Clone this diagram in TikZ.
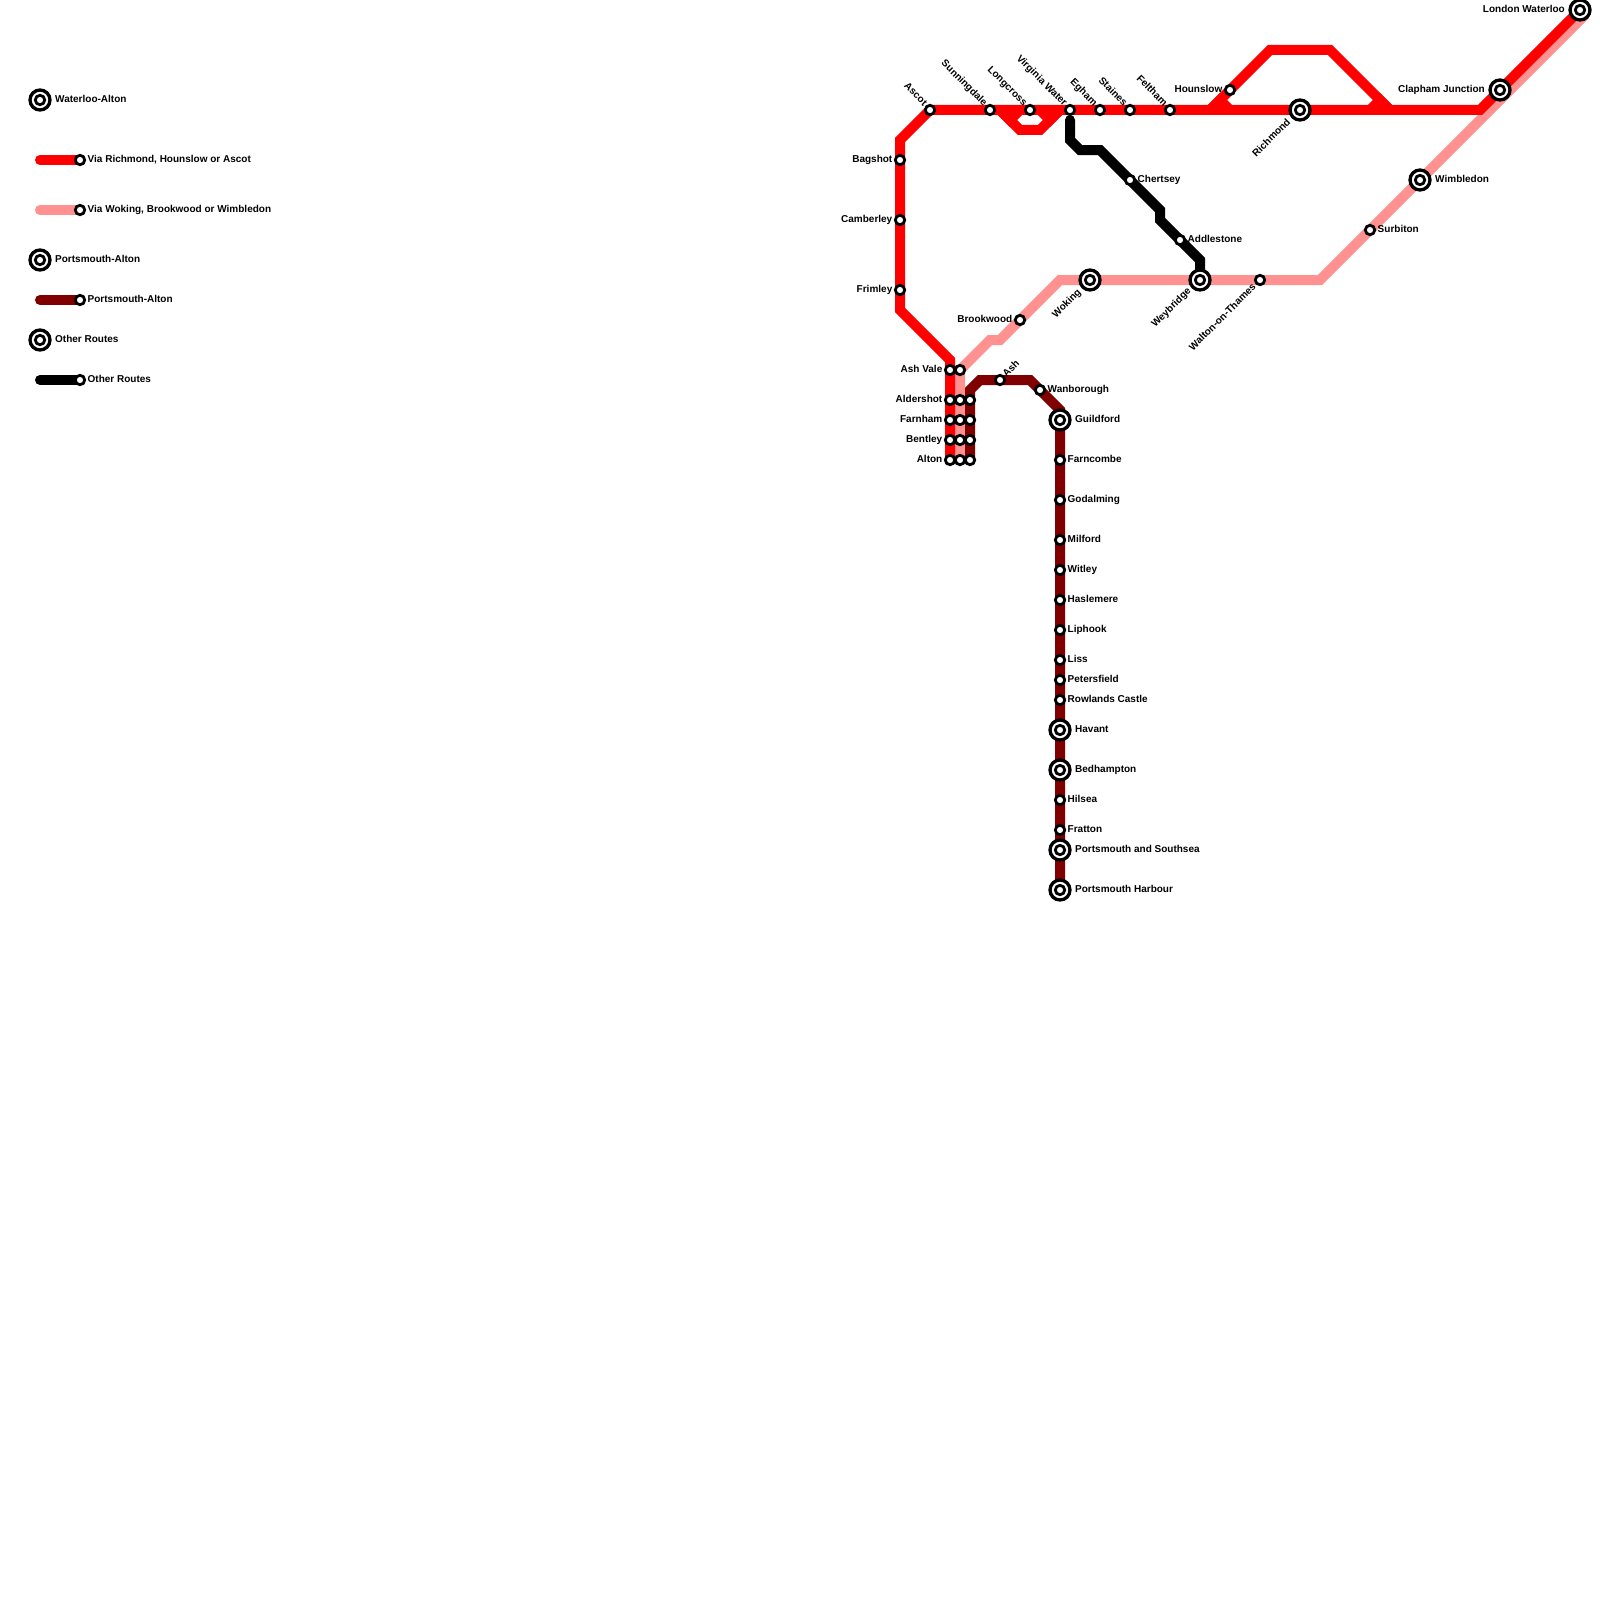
\documentclass[tikz,border=0pt]{standalone}
\usepackage{fontspec}
\setmainfont{Liberation Sans}
\usetikzlibrary{backgrounds}
\tikzset{
  x=1pt,y=-1pt,
  route/.style={line width=10pt,line cap=round,line join=miter},
  redline/.style={route,draw=rail},
  pinkline/.style={route,draw=railpink},
  darkline/.style={route,draw=raildark},
  blackline/.style={route,draw=black},
  stn/.style={circle,draw=black,fill=white,line width=2.8pt,minimum size=9.4pt,inner sep=0pt},
  ringstn/.style={circle,draw=black,fill=white,line width=3.3pt,minimum size=20pt,inner sep=0pt},
  lab/.style={font=\fontsize{10}{12}\selectfont\bfseries,text=black,inner sep=0pt,text height=7.2pt,text depth=0pt},
}
\definecolor{rail}{RGB}{255,0,0}
\definecolor{railpink}{RGB}{255,145,145}
\definecolor{raildark}{RGB}{128,0,0}
\newcommand{\st}[3]{\node[stn] (#1) at (#2,#3) {};}
\newcommand{\rg}[3]{\node[ringstn] (#1) at (#2,#3) {}; \node[stn] (#1i) at (#1.center) {};}
% labels: station, dx, dy, rotation, anchor, text
\newcommand{\lb}[6]{\node[lab,rotate=#4,anchor=#5] (#1lab) at ([xshift=#2pt,yshift=#3pt]#1.center) {#6};}
\newcommand{\rs}[2]{\lb{#1}{7.5}{1.2}{0}{west}{#2}}
\newcommand{\ls}[2]{\lb{#1}{-7.5}{1.2}{0}{east}{#2}}
\newcommand{\rr}[2]{\lb{#1}{15}{1.2}{0}{west}{#2}}
\newcommand{\lr}[2]{\lb{#1}{-15}{1.2}{0}{east}{#2}}
\newcommand{\ul}[2]{\lb{#1}{-4}{6}{-45}{east}{#2}}
\begin{document}
\begin{tikzpicture}
\useasboundingbox (0,0) rectangle (1600,1600);
% legend
\rg{kA}{40}{100} \rg{kB}{40}{260} \rg{kC}{40}{340}
\st{kD}{80}{160} \st{kE}{80}{210} \st{kF}{80}{300} \st{kG}{80}{380}
\coordinate (kDs) at (40,160); \coordinate (kEs) at (40,210); \coordinate (kFs) at (40,300); \coordinate (kGs) at (40,380);
\lb{kA}{15}{1.2}{0}{west}{Waterloo-Alton}
\lb{kB}{15}{1.2}{0}{west}{Portsmouth-Alton}
\lb{kC}{15}{1.2}{0}{west}{Other Routes}
\rs{kD}{Via Richmond, Hounslow or Ascot}
\rs{kE}{Via Woking, Brookwood or Wimbledon}
\rs{kF}{Portsmouth-Alton}
\rs{kG}{Other Routes}
% stations
\rg{waterloo}{1580}{10} \rg{clapham}{1500}{90} \rg{wimbledon}{1420}{180} \rg{richmond}{1300}{110}
\rg{woking}{1090}{280} \rg{weybridge}{1200}{280}
\rg{guildford}{1060}{420} \rg{havant}{1060}{730} \rg{bedhampton}{1060}{770}
\rg{southsea}{1060}{850} \rg{harbour}{1060}{890}
\st{surbiton}{1370}{230} \st{walton}{1260}{280} \st{brookwood}{1020}{320}
\st{hounslow}{1230}{90} \st{feltham}{1170}{110} \st{staines}{1130}{110} \st{egham}{1100}{110}
\st{virginia}{1070}{110} \st{longcross}{1030}{110} \st{sunningdale}{990}{110} \st{ascot}{930}{110}
\st{bagshot}{900}{160} \st{camberley}{900}{220} \st{frimley}{900}{290}
\st{ashvaleA}{950}{370} \st{ashvaleB}{960}{370}
\st{aldershotA}{950}{400} \st{aldershotB}{960}{400} \st{aldershotC}{970}{400}
\st{farnhamA}{950}{420} \st{farnhamB}{960}{420} \st{farnhamC}{970}{420}
\st{bentleyA}{950}{440} \st{bentleyB}{960}{440} \st{bentleyC}{970}{440}
\st{altonA}{950}{460} \st{altonB}{960}{460} \st{altonC}{970}{460}
\st{ash}{1000}{380} \st{wanborough}{1040}{390}
\st{farncombe}{1060}{460} \st{godalming}{1060}{500} \st{milford}{1060}{540} \st{witley}{1060}{570}
\st{haslemere}{1060}{600} \st{liphook}{1060}{630} \st{liss}{1060}{660} \st{petersfield}{1060}{680}
\st{rowlands}{1060}{700} \st{hilsea}{1060}{800} \st{fratton}{1060}{830}
\st{chertsey}{1130}{180} \st{addlestone}{1180}{240}
% labels
\lr{waterloo}{London Waterloo} \lr{clapham}{Clapham Junction} \rr{wimbledon}{Wimbledon}
\lb{richmond}{-11.5}{-10}{45}{east}{Richmond}
\lb{woking}{-11}{-10}{45}{east}{Woking}
\lb{weybridge}{-11}{-9}{45}{east}{Weybridge}
\lb{walton}{-6}{-5}{45}{east}{Walton-on-Thames}
\rs{surbiton}{Surbiton} \ls{brookwood}{Brookwood} \ls{hounslow}{Hounslow}
\ul{feltham}{Feltham} \ul{staines}{Staines} \ul{egham}{Egham} \ul{virginia}{Virginia Water}
\ul{longcross}{Longcross} \ul{sunningdale}{Sunningdale} \ul{ascot}{Ascot}
\ls{bagshot}{Bagshot} \ls{camberley}{Camberley} \ls{frimley}{Frimley}
\ls{ashvaleA}{Ash Vale} \ls{aldershotA}{Aldershot} \ls{farnhamA}{Farnham} \ls{bentleyA}{Bentley} \ls{altonA}{Alton}
\lb{ash}{4}{5}{45}{west}{Ash}
\rs{wanborough}{Wanborough} \rr{guildford}{Guildford} \rs{farncombe}{Farncombe} \rs{godalming}{Godalming}
\rs{milford}{Milford} \rs{witley}{Witley} \rs{haslemere}{Haslemere} \rs{liphook}{Liphook} \rs{liss}{Liss}
\rs{petersfield}{Petersfield} \rs{rowlands}{Rowlands Castle} \rr{havant}{Havant} \rr{bedhampton}{Bedhampton}
\rs{hilsea}{Hilsea} \rs{fratton}{Fratton} \rr{southsea}{Portsmouth and Southsea} \rr{harbour}{Portsmouth Harbour}
\rs{chertsey}{Chertsey} \rs{addlestone}{Addlestone}
% routes
\begin{scope}[on background layer]
\draw[redline] (kDs) -- (kD.center);
\draw[pinkline] (kEs) -- (kE.center);
\draw[darkline] (kFs) -- (kF.center);
\draw[blackline] (kGs) -- (kG.center);
% pink route
\coordinate (p1) at (1585,15); \coordinate (p2) at (1320,280); \coordinate (p3) at (1060,280);
\coordinate (p4) at (1000,340); \coordinate (p5) at (990,340);
\draw[pinkline] (p1) -- (p2) -- (p3) -- (p4) -- (p5) -- (ashvaleB.center) -- (altonB.center);
% red routes
\coordinate (r1) at (1480,110); \coordinate (r2) at (1390,110); \coordinate (r3) at (1380,100); \coordinate (r4) at (1370,110);
\coordinate (r5) at (1230,110); \coordinate (r6) at (1220,100); \coordinate (r7) at (1210,110);
\coordinate (h1) at (1330,50); \coordinate (h2) at (1270,50);
\coordinate (a1) at (1060,110); \coordinate (a2) at (1050,120); \coordinate (a3) at (1040,110);
\coordinate (a4) at (1020,110); \coordinate (a5) at (1010,120); \coordinate (a6) at (1000,110);
\coordinate (b1) at (1040,130); \coordinate (b2) at (1020,130);
\coordinate (c1) at (900,140); \coordinate (c2) at (900,310); \coordinate (c3) at (950,360);
\draw[redline] (waterloo.center) -- (r1) -- (ascot.center) -- (c1) -- (c2) -- (c3) -- (altonA.center);
\draw[redline] (r2) -- (r3) -- (r4);
\draw[redline] (r5) -- (r6) -- (r7);
\draw[redline] (a1) -- (a2) -- (a3);
\draw[redline] (a4) -- (a5) -- (a6);
\draw[redline] (r2) -- (h1) -- (h2) -- (r7);
\draw[redline] (a1) -- (b1) -- (b2) -- (a6);
% dark route
\coordinate (d1) at (970,390); \coordinate (d2) at (980,380); \coordinate (d3) at (1030,380); \coordinate (d4) at (1060,410);
\draw[darkline] (altonC.center) -- (d1) -- (d2) -- (d3) -- (d4) -- (harbour.center);
% black route
\coordinate (k1) at (1070,140); \coordinate (k2) at (1080,150); \coordinate (k3) at (1100,150);
\coordinate (k4) at (1160,210); \coordinate (k5) at (1160,220); \coordinate (k6) at (1200,260);
\coordinate (k0) at (1070,120);
\draw[blackline] (k0) -- (k1) -- (k2) -- (k3) -- (k4) -- (k5) -- (k6) -- (weybridge.center);
\end{scope}
\end{tikzpicture}
\end{document}
